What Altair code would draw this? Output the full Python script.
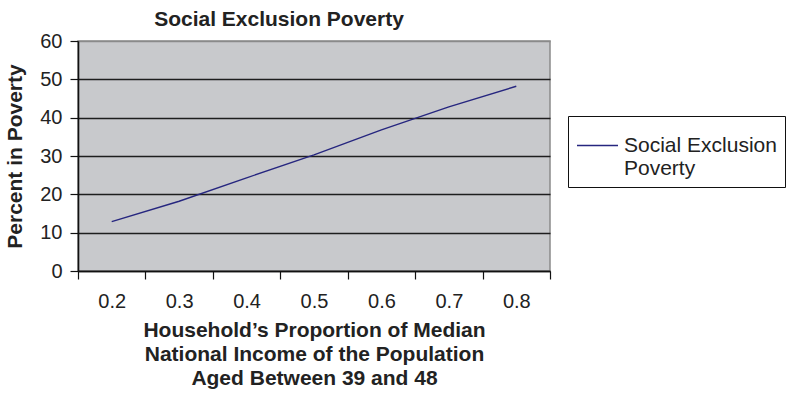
import altair as alt
import pandas as pd

categories = ["0.2", "0.3", "0.4", "0.5", "0.6", "0.7", "0.8"]
values = [12.9, 18.2, 24.3, 30.3, 36.8, 42.8, 48.2]
series_name = "Social Exclusion Poverty"
y_ticks = [0, 10, 20, 30, 40, 50, 60]

df = pd.DataFrame({"x": categories, "y": values, "series": [series_name] * len(categories)})

FONT = "Liberation Sans"

chart = alt.Chart(df).mark_line(strokeWidth=1.4).encode(
    x=alt.X(
        "x:O",
        sort=categories,
        scale=alt.Scale(type="band", paddingInner=0, paddingOuter=0),
        axis=alt.Axis(
            title=["Household’s Proportion of Median",
                   "National Income of the Population",
                   "Aged Between 39 and 48"],
            labelAngle=0,
            tickBand="extent",
            tickSize=8,
            tickColor="#111111",
            tickWidth=1.2,
            domainColor="#111111",
            domainWidth=1.6,
            labelFont=FONT,
            labelFontSize=20,
            labelColor="#222222",
            labelPadding=12,
            titleFont=FONT,
            titleFontSize=21,
            titleFontWeight="bold",
            titleColor="#222222",
            titleLineHeight=24,
            titlePadding=8,
            grid=False,
        ),
    ),
    y=alt.Y(
        "y:Q",
        scale=alt.Scale(domain=[0, 60], nice=False),
        axis=alt.Axis(
            title="Percent in Poverty",
            values=y_ticks,
            tickSize=8,
            tickColor="#111111",
            tickWidth=1.2,
            domainColor="#111111",
            domainWidth=1.6,
            labelFont=FONT,
            labelFontSize=20,
            labelColor="#222222",
            labelPadding=8,
            titleFont=FONT,
            titleFontSize=21,
            titleFontWeight="bold",
            titleColor="#222222",
            titlePadding=14,
            grid=True,
            gridColor=alt.condition("datum.value == 60", alt.value("#8a8a8a"), alt.value("#1e1e1e")),
            gridWidth=1.3,
        ),
    ),
    color=alt.Color(
        "series:N",
        scale=alt.Scale(range=["#26267f"]),
        legend=alt.Legend(
            title=None,
            orient="none",
            legendX=490,
            legendY=75,
            symbolType="stroke",
            symbolSize=1681,
            symbolStrokeWidth=1.4,
            labelExpr="['Social Exclusion', 'Poverty']",
            labelFont=FONT,
            labelFontSize=21,
            labelBaseline="middle",
            labelColor="#222222",
            labelOffset=5,
            labelLimit=300,
            strokeColor="#111111",
            fillColor="white",
            padding=8,
        ),
    ),
).properties(
    width=472,
    height=230,
    title=alt.TitleParams(
        text="Social Exclusion Poverty",
        font=FONT,
        fontSize=21,
        fontWeight="bold",
        color="#222222",
        anchor="middle",
        frame="group",
        dx=-35,
        offset=1,
    ),
    background="white",
    autosize=alt.AutoSizeParams(type="none"),
    padding={"left": 78, "top": 41, "right": 240, "bottom": 124},
).configure_view(
    fill="#c8c9cc",
    stroke="#8a8a8a",
    strokeWidth=1.5,
)

chart.save("out.html", embed_options={"renderer": "svg", "actions": False})
